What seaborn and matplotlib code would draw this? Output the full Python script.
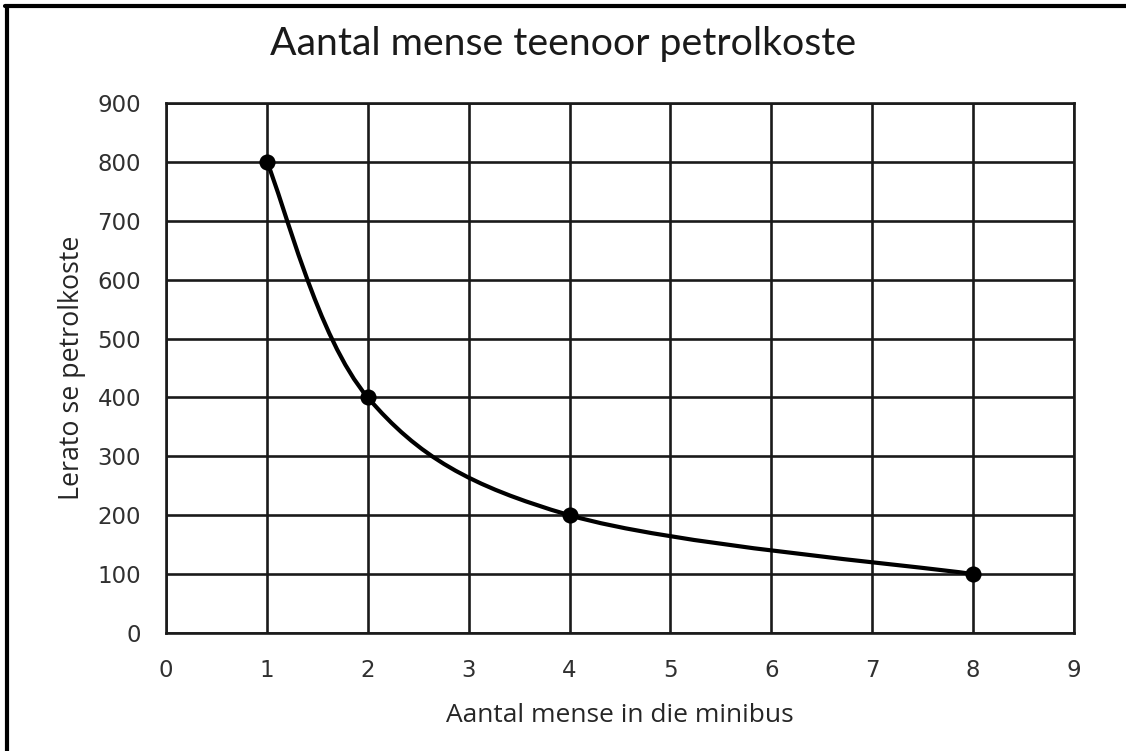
import matplotlib
matplotlib.use("Agg")
from matplotlib import pyplot as plt
from matplotlib.path import Path
from matplotlib.patches import PathPatch
from matplotlib.lines import Line2D
import seaborn as sns
import pandas as pd
import numpy as np

# dados
mense = [1, 2, 4, 8]
petrolkoste = [800, 400, 200, 100]
x_ticks = list(range(0, 10))
y_ticks = list(range(0, 1000, 100))

titel = "Aantal mense teenoor petrolkoste"
x_label = "Aantal mense in die minibus"
y_label = "Lerato se petrolkoste"

df = pd.DataFrame({"mense": mense, "koste": petrolkoste})

sns.set_theme(style="white")
plt.rcParams["font.family"] = ["DejaVu Sans"]

fig = plt.figure(figsize=(11.26, 7.51), dpi=100)
ax = fig.add_axes([166 / 1126, 1 - 633 / 751, (1074 - 166) / 1126, (633 - 103) / 751])

ax.set_xlim(0, 9)
ax.set_ylim(0, 900)
ax.set_xticks(x_ticks)
ax.set_yticks(y_ticks)
ax.grid(True, color="#1a1a1a", linewidth=1.9)
ax.set_axisbelow(True)
for sp in ax.spines.values():
    sp.set_color("#1a1a1a")
    sp.set_linewidth(1.9)
ax.tick_params(axis="both", length=0, labelsize=16.5, labelcolor="#303030")
ax.tick_params(axis="x", pad=19)
ax.tick_params(axis="y", pad=18)

# curva suavizada (estilo Excel) em coordenadas de tela
pts = ax.transData.transform(np.column_stack([mense, petrolkoste]))
ext = np.vstack([pts[0], pts, pts[-1]])
verts = [tuple(pts[0])]
codes = [Path.MOVETO]
for i in range(1, len(ext) - 2):
    p0, p1, p2, p3 = ext[i - 1], ext[i], ext[i + 1], ext[i + 2]
    c1 = p1 + (p2 - p0) / 6
    c2 = p2 - (p3 - p1) / 6
    verts += [tuple(c1), tuple(c2), tuple(p2)]
    codes += [Path.CURVE4] * 3
curve = PathPatch(Path(verts, codes), facecolor="none", edgecolor="black",
                  linewidth=3, transform=None, zorder=3)
ax.add_patch(curve)

sns.scatterplot(data=df, x="mense", y="koste", ax=ax, color="black",
                marker="o", s=135, linewidth=0, zorder=4, clip_on=False)

ax.set_xlabel(x_label, fontsize=19, family="Open Sans", color="#262626", labelpad=15)
ax.set_ylabel(y_label, fontsize=19.3, family="Open Sans", color="#262626", labelpad=8)
fig.text(0.5, 1 - 55 / 751, titel, ha="center", va="baseline", fontsize=28.3,
         family="Lato", color="#1a1a1a")

# moldura externa (só topo e esquerda visíveis)
fig.add_artist(Line2D([7 / 1126, 7 / 1126], [0, 1 - 6 / 751], color="black",
                      linewidth=3, transform=fig.transFigure))
fig.add_artist(Line2D([5 / 1126, 1], [1 - 6 / 751, 1 - 6 / 751], color="black",
                      linewidth=3, transform=fig.transFigure))

fig.savefig("out.png", dpi=100)
